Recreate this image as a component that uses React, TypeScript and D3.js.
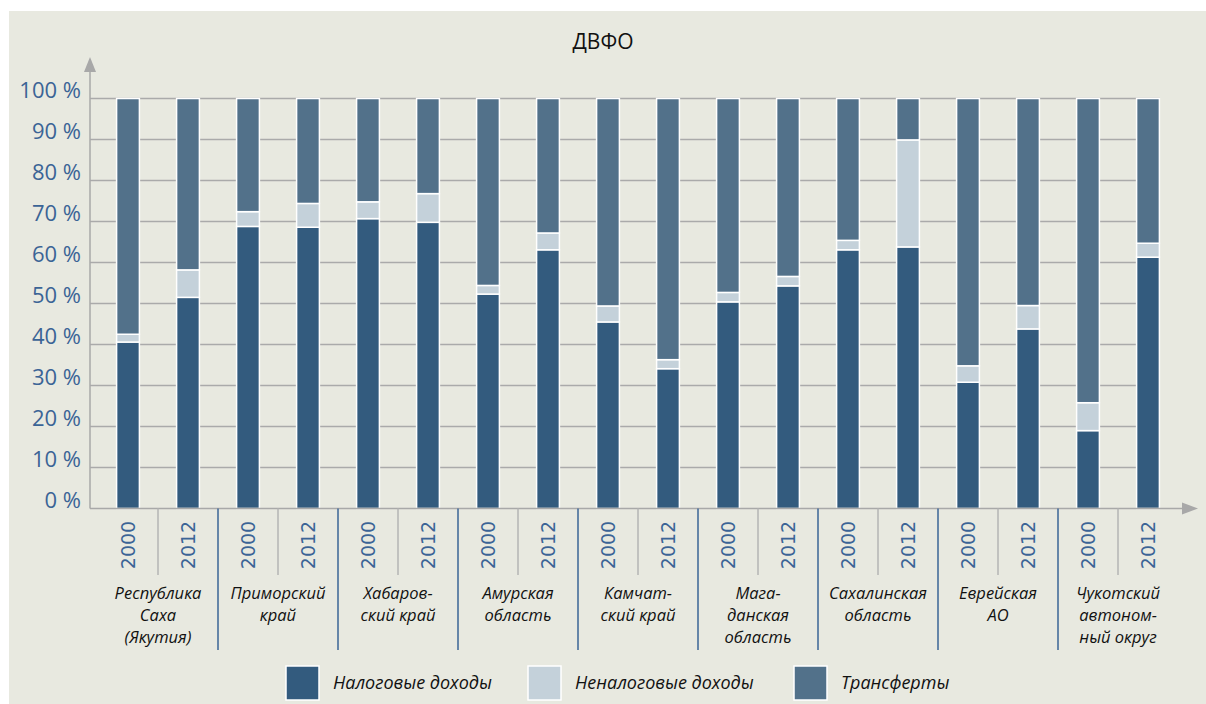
import React from 'react';
import * as d3 from 'd3';

// Regions (label lines) and years
const regions: string[][] = [
  ['Республика', 'Саха', '(Якутия)'],
  ['Приморский', 'край'],
  ['Хабаров-', 'ский край'],
  ['Амурская', 'область'],
  ['Камчат-', 'ский край'],
  ['Мага-', 'данская', 'область'],
  ['Сахалинская', 'область'],
  ['Еврейская', 'АО'],
  ['Чукотский', 'автоном-', 'ный округ'],
];
const years = ['2000', '2012'];

// shares, % (transfers = 100 - tax - nontax)
const taxIncome = [40.6, 51.5, 68.8, 68.6, 70.7, 69.8, 52.3, 63.1, 45.5, 34.1, 50.4, 54.3, 63.1, 63.8, 30.8, 43.8, 19.0, 61.3];
const nonTaxIncome = [1.9, 6.7, 3.6, 5.8, 4.1, 7.0, 2.1, 4.1, 3.9, 2.2, 2.3, 2.3, 2.3, 26.1, 4.0, 5.7, 6.8, 3.4];

const yTicks = [0, 10, 20, 30, 40, 50, 60, 70, 80, 90, 100];

const seriesNames = ['Налоговые доходы', 'Неналоговые доходы', 'Трансферты'];
const colors = ['#335b7e', '#c4d1da', '#52718a'];

const W = 1206;
const H = 704;
const axisX = 90;
const plotLeft = 98;
const plotRight = 1178;
const yTop = 98.5;
const yBottom = 508.5;

const App: React.FC = () => {
  const keys = regions.flatMap((_, ri) => years.map((yr) => `${ri}-${yr}`));
  const x = d3.scaleBand<string>().domain(keys).range([plotLeft, plotRight]).paddingInner(0.62).paddingOuter(0.31);
  const y = d3.scaleLinear().domain([0, 100]).range([yBottom, yTop]);

  const rows = keys.map((k, i) => ({
    key: k,
    tax: taxIncome[i],
    nontax: nonTaxIncome[i],
    transfer: 100 - taxIncome[i] - nonTaxIncome[i],
  }));
  const stack = d3.stack<any>().keys(['tax', 'nontax', 'transfer'])(rows);

  const slot = (plotRight - plotLeft) / keys.length;
  const fontLabel = '"Open Sans", "DejaVu Sans", sans-serif';

  return (
    <svg width={W} height={H} style={{ position: 'absolute', left: 0, top: 0 }}>
      <rect x={9} y={11} width={W - 9} height={H - 11} fill="#e8e9e0" />
      <text x={603} y={49} textAnchor="middle" fontFamily={fontLabel} fontSize={21} fill="#111">ДВФО</text>

      {/* gridlines and y labels */}
      {yTicks.map((t) => (
        <g key={t}>
          {t > 0 && <line x1={axisX} x2={1160} y1={y(t)} y2={y(t)} stroke="#aaaaaa" strokeWidth={1.5} />}
          <text x={81} y={y(t) - 0.5} textAnchor="end" fontFamily={fontLabel} fontSize={22} fill="#3b6496">{`${t} %`}</text>
        </g>
      ))}

      {/* bars */}
      {stack.map((s, si) => (
        <g key={si} fill={colors[si]}>
          {s.map((d, i) => (
            <rect key={i} x={x(keys[i])} width={x.bandwidth()} y={y(d[1])} height={y(d[0]) - y(d[1])} stroke="#ffffff" strokeWidth={1.5} />
          ))}
        </g>
      ))}

      {/* axes */}
      <line x1={axisX} x2={axisX} y1={70} y2={yBottom} stroke="#a8a8a8" strokeWidth={1.5} />
      <path d={`M${axisX - 6},${72} L${axisX},${57} L${axisX + 6},${72} Z`} fill="#a8a8a8" />
      <line x1={axisX} x2={1185} y1={yBottom} y2={yBottom} stroke="#a8a8a8" strokeWidth={1.5} />
      <path d={`M${1182},${yBottom - 6} L${1198},${yBottom} L${1182},${yBottom + 6} Z`} fill="#a8a8a8" />

      {/* year labels and separators */}
      {keys.map((k, i) => {
        const cx = (x(k) as number) + x.bandwidth() / 2;
        const right = plotLeft + slot * (i + 1);
        const isRegionEnd = i % 2 === 1;
        return (
          <g key={k}>
            <text transform={`translate(${cx + 7},545) rotate(-90)`} textAnchor="middle" fontFamily='"DejaVu Sans", sans-serif' fontSize={19} fill="#3b6496">{years[i % 2]}</text>
            {!isRegionEnd && <line x1={right} x2={right} y1={yBottom} y2={575} stroke="#b4b4b4" strokeWidth={1.5} />}
            {isRegionEnd && i < keys.length - 1 && <line x1={right} x2={right} y1={yBottom} y2={650} stroke="#3b6496" strokeWidth={1.5} />}
          </g>
        );
      })}

      {/* region labels */}
      {regions.map((lines, ri) => {
        const cx = plotLeft + slot * (ri * 2 + 1);
        return (
          <text key={ri} textAnchor="middle" fontFamily={fontLabel} fontStyle="italic" fontSize={16.5} fill="#111">
            {lines.map((ln, li) => (
              <tspan key={li} x={cx} y={599 + li * 22}>{ln}</tspan>
            ))}
          </text>
        );
      })}

      {/* legend */}
      {seriesNames.map((name, i) => {
        const lx = [286, 528, 794][i];
        return (
          <g key={name}>
            <rect x={lx} y={666} width={33} height={34} fill={colors[i]} stroke="#ffffff" strokeWidth={1.5} />
            <text x={lx + 47} y={689} fontFamily={fontLabel} fontStyle="italic" fontSize={18} fill="#111">{name}</text>
          </g>
        );
      })}
    </svg>
  );
};

export default App;
